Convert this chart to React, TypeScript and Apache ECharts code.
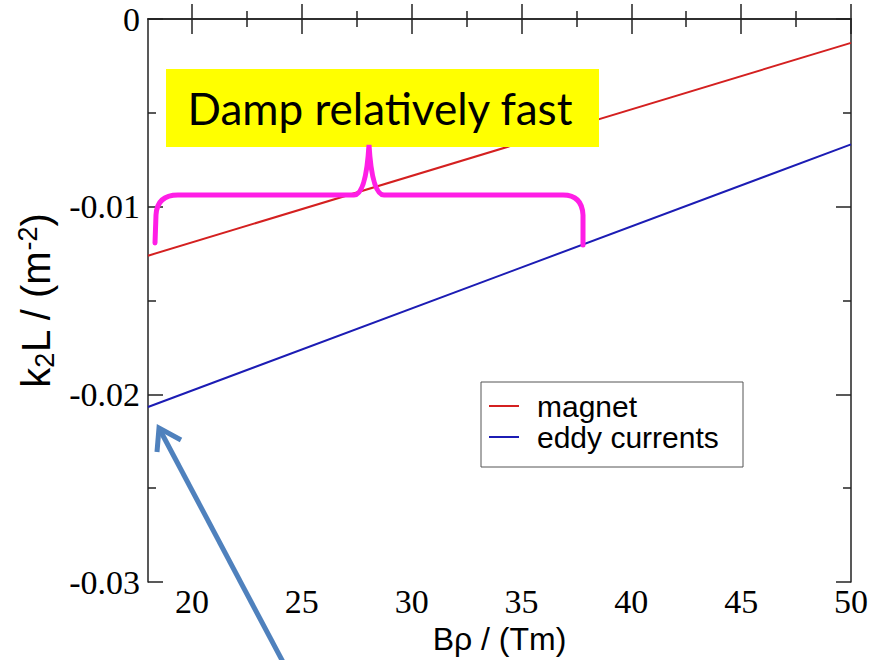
import React, { useEffect, useRef } from "react";
import * as echarts from "echarts";

// ---- data ----
const bRho = [18, 50];
const magnet = [-0.01261, -0.00127];
const eddyCurrents = [-0.02067, -0.00668];
const xMajorTicks = [20, 25, 30, 35, 40, 45, 50];
const xMinorTicks = [22.5, 27.5, 32.5, 37.5, 42.5, 47.5];
const seriesNames = ["magnet", "eddy currents"];
const annotationText = "Damp relatively fast";

const RED = "#d42020";
const BLUE = "#1c1cb4";
const AXIS = { color: "#222", width: 1.5 };
const SERIF = "Liberation Serif";
const SANS = "Liberation Sans";

let registered = false;
function registerShapes() {
  if (registered) return;
  registered = true;
  const brace =
    "M155,243 L156,215 Q157,195 178,195 L354,195 Q366,195 369,145 Q372,195 384,195 L563,195 Q582,195 583,215 L583,245";
  echarts.graphic.registerShape("brace", echarts.graphic.extendPath(brace, {}));
}

export default function App() {
  const ref = useRef<HTMLDivElement>(null);
  useEffect(() => {
    if (!ref.current) return;
    registerShapes();
    const chart = echarts.init(ref.current, undefined, { renderer: "svg" });
    const xBase = {
      type: "value" as const,
      min: 18,
      max: 50,
      splitLine: { show: false },
    };
    const yBase = {
      type: "value" as const,
      min: -0.03,
      max: 0,
      interval: 0.01,
      splitLine: { show: false },
    };
    const tickLabelRich = {
      v: { fontFamily: SERIF, fontSize: 34, color: "#000" },
    };
    chart.setOption({
      animation: false,
      backgroundColor: "#fff",
      grid: { left: 148, right: 19, top: 19, bottom: 75, containLabel: false },
      xAxis: [
        {
          ...xBase,
          position: "bottom",
          name: "Bρ / (Tm)",
          nameLocation: "middle",
          nameGap: 32,
          nameTextStyle: { fontFamily: SANS, fontSize: 32, color: "#000" },
          axisLine: { show: true, lineStyle: AXIS },
          axisTick: { show: true, inside: true, length: 15, customValues: xMajorTicks, lineStyle: AXIS },
          axisLabel: {
            show: true,
            customValues: xMajorTicks,
            fontFamily: SERIF,
            fontSize: 34,
            color: "#000",
            margin: 2,
            formatter: (v: number) => `{v|${v}}`,
            rich: tickLabelRich,
          },
        },
        {
          ...xBase,
          position: "bottom",
          axisLine: { show: false },
          axisTick: { show: true, inside: true, length: 8, customValues: xMinorTicks, lineStyle: AXIS },
          axisLabel: { show: false },
        },
        {
          ...xBase,
          position: "top",
          axisLine: { show: true, lineStyle: AXIS },
          axisTick: { show: true, inside: true, length: 15, customValues: xMajorTicks, lineStyle: AXIS },
          axisLabel: { show: false },
        },
        {
          ...xBase,
          position: "top",
          axisLine: { show: false },
          axisTick: { show: true, inside: true, length: 8, customValues: xMinorTicks, lineStyle: AXIS },
          axisLabel: { show: false },
        },
      ],
      yAxis: [
        {
          ...yBase,
          position: "left",
          name: "{a|k}{sub|2}{a|L / (m}{sup|-2}{a|)}",
          nameLocation: "middle",
          nameRotate: 90,
          nameGap: 86,
          nameTextStyle: {
            fontFamily: SANS,
            fontSize: 40,
            color: "#000",
            rich: {
              a: { fontFamily: SANS, fontSize: 40, color: "#000" },
              sub: { fontFamily: SANS, fontSize: 27, color: "#000", padding: [17, 0, 0, 0] },
              sup: { fontFamily: SANS, fontSize: 27, color: "#000", padding: [0, 0, 17, 0] },
            },
          },
          axisLine: { show: true, lineStyle: AXIS },
          axisTick: { show: true, inside: true, length: 15, lineStyle: AXIS },
          minorTick: { show: true, splitNumber: 2, length: 8, lineStyle: AXIS },
          axisLabel: {
            show: true,
            fontFamily: SERIF,
            fontSize: 34,
            color: "#000",
            margin: 8,
            formatter: (v: number) => `{v|${v}}`,
            rich: tickLabelRich,
          },
        },
        {
          ...yBase,
          position: "right",
          axisLine: { show: true, lineStyle: AXIS },
          axisTick: { show: true, inside: true, length: 15, lineStyle: AXIS },
          minorTick: { show: true, splitNumber: 2, length: 8, lineStyle: AXIS },
          axisLabel: { show: false },
        },
      ],
      series: [
        {
          name: seriesNames[0],
          type: "line",
          xAxisIndex: 0,
          yAxisIndex: 0,
          data: bRho.map((x, i) => [x, magnet[i]]),
          showSymbol: false,
          lineStyle: { color: RED, width: 2 },
          itemStyle: { color: RED },
        },
        {
          name: seriesNames[1],
          type: "line",
          xAxisIndex: 0,
          yAxisIndex: 0,
          data: bRho.map((x, i) => [x, eddyCurrents[i]]),
          showSymbol: false,
          lineStyle: { color: BLUE, width: 2 },
          itemStyle: { color: BLUE },
        },
      ],
      graphic: [
        // legend box
        {
          type: "rect",
          shape: { x: 481, y: 382, width: 262, height: 85 },
          style: { fill: "#fff", stroke: "#555", lineWidth: 1 },
          z: 20,
        },
        {
          type: "line",
          shape: { x1: 489, y1: 406, x2: 519, y2: 406 },
          style: { stroke: RED, lineWidth: 2 },
          z: 21,
        },
        {
          type: "line",
          shape: { x1: 489, y1: 437, x2: 519, y2: 437 },
          style: { stroke: BLUE, lineWidth: 2 },
          z: 21,
        },
        {
          type: "text",
          x: 537,
          y: 406,
          style: {
            text: seriesNames[0],
            fontFamily: SANS,
            fontSize: 30,
            fill: "#000",
            verticalAlign: "middle",
          },
          z: 21,
        },
        {
          type: "text",
          x: 537,
          y: 437,
          style: {
            text: seriesNames[1],
            fontFamily: SANS,
            fontSize: 30,
            fill: "#000",
            verticalAlign: "middle",
          },
          z: 21,
        },
        // yellow annotation
        {
          type: "rect",
          shape: { x: 166, y: 69, width: 433, height: 78 },
          style: { fill: "#ffff00" },
          z: 30,
        },
        {
          type: "text",
          x: 380,
          y: 108,
          style: {
            text: annotationText,
            fontFamily: "Lato",
            fontSize: 44,
            fill: "#000",
            align: "center",
            verticalAlign: "middle",
          },
          z: 31,
        },
        // brace
        {
          type: "brace",
          x: 0,
          y: 0,
          scaleX: 1,
          scaleY: 1,
          style: { stroke: "#ff1ee6", fill: "none", lineWidth: 5, lineCap: "round" },
          z: 32,
        },
        // arrow
        {
          type: "line",
          shape: { x1: 283, y1: 662, x2: 160, y2: 430 },
          style: { stroke: "#4f81bd", lineWidth: 5 },
          z: 33,
        },
        {
          type: "polyline",
          shape: { points: [[181, 440], [159, 428], [157, 452]] },
          style: { stroke: "#4f81bd", lineWidth: 5, fill: "none", lineJoin: "miter" },
          z: 33,
        },
      ],
    });
    return () => chart.dispose();
  }, []);
  return (
    <div
      ref={ref}
      style={{ position: "fixed", left: 0, top: 0, width: 871, height: 660 }}
    />
  );
}
